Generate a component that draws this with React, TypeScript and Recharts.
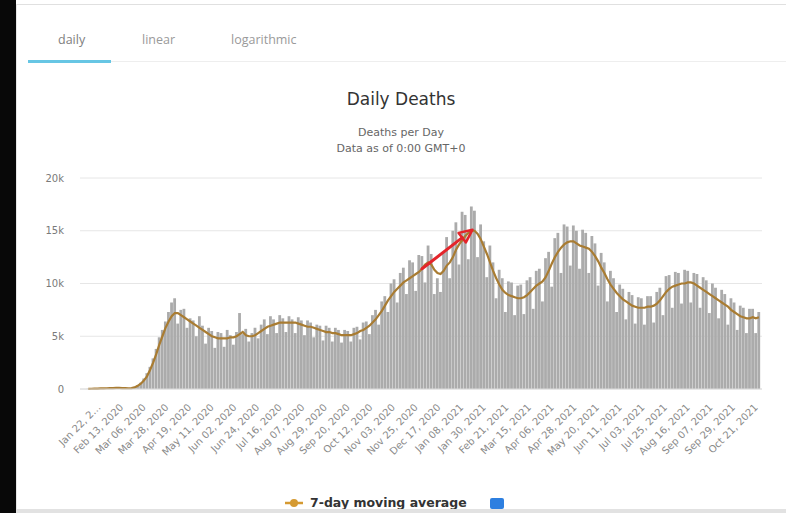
import { ComposedChart, Bar, Line, XAxis, YAxis, CartesianGrid, ReferenceLine } from "recharts";

// one sample every 3 days, starting Jan 22, 2020
const STEP = 3;

const tickDays = [0, 22, 44, 66, 88, 110, 132, 154, 176, 198, 220, 242, 264, 286, 308, 330, 352, 374, 396, 418, 440, 462, 484, 506, 528, 550, 572, 594, 616, 638];
const tickLabels = [
  "Jan 22, 2…", "Feb 13, 2020", "Mar 06, 2020", "Mar 28, 2020", "Apr 19, 2020", "May 11, 2020",
  "Jun 02, 2020", "Jun 24, 2020", "Jul 16, 2020", "Aug 07, 2020", "Aug 29, 2020", "Sep 20, 2020",
  "Oct 12, 2020", "Nov 03, 2020", "Nov 25, 2020", "Dec 17, 2020", "Jan 08, 2021", "Jan 30, 2021",
  "Feb 21, 2021", "Mar 15, 2021", "Apr 06, 2021", "Apr 28, 2021", "May 20, 2021", "Jun 11, 2021",
  "Jul 03, 2021", "Jul 25, 2021", "Aug 16, 2021", "Sep 07, 2021", "Sep 29, 2021", "Oct 21, 2021",
];
const yTicks = [0, 5000, 10000, 15000, 20000];

const dailyDeaths = [
  20, 25, 35, 40, 60, 50, 80, 100, 70, 140,
  110, 90, 70, 60, 90, 200, 350, 600, 1000, 1500,
  2100, 2900, 3800, 4900, 5600, 6400, 7300, 8200, 8600, 6200,
  7500, 7600, 5800, 6700, 6500, 5000, 6900, 6000, 4300, 5800,
  5500, 3900, 5400, 5300, 4000, 5600, 5100, 4200, 5400, 7200,
  5200, 5700, 4500, 5300, 5800, 4800, 6100, 6600, 5200, 6900,
  6600, 5300, 7000, 6700, 5400, 6900, 6600, 5300, 6800, 6500,
  5100, 6500, 6300, 4900, 6100, 6000, 4600, 6000, 5800, 4500,
  5800, 5600, 4400, 5600, 5500, 4500, 5800, 5900, 4700, 6300,
  6400, 5200, 7000, 7500, 6100, 8300, 8800, 7300, 10000, 10400,
  8200, 11000, 11500, 9000, 12200, 12000, 9300, 12700, 12600, 10100,
  13600, 12800, 9000, 10500, 9200, 13000, 14400, 10500, 15000, 15800,
  11800, 16800, 16500, 12300, 17300, 16900, 12500, 15600, 14000, 10600,
  13600, 12000, 8600, 11300, 10500, 7300, 10200, 10100, 7000, 9800,
  9900, 7100, 10300, 10600, 7600, 11200, 11400, 8300, 12400, 13000,
  9700, 14300, 14800, 11000, 15600, 15400, 11700, 15500, 15000, 11400,
  15100, 14800, 11000, 14500, 13800, 9800, 12900, 12000, 8300, 11200,
  10500, 7300, 9900, 9500, 6600, 9200, 8900, 6200, 8700, 8600,
  6100, 8800, 8800, 6300, 9200, 9600, 7000, 10700, 10800, 7700,
  11100, 11000, 8100, 11300, 11200, 8200, 11000, 10900, 7700, 10600,
  10300, 7200, 10000, 9600, 6700, 9400, 9000, 6100, 8600, 8200,
  5600, 7900, 7700, 5300, 7600, 7600, 5300, 7300,
];

const movingAvg = [
  20, 25, 30, 40, 50, 60, 70, 80, 90, 100,
  100, 90, 80, 70, 80, 150, 300, 500, 800, 1200,
  1800, 2500, 3300, 4200, 5000, 5800, 6400, 6900, 7200, 7200,
  7000, 6800, 6600, 6400, 6200, 6000, 5800, 5600, 5400, 5200,
  5000, 4900, 4800, 4800, 4800, 4800, 4900, 4900, 5000, 5200,
  5400, 5100, 5000, 5000, 5100, 5300, 5500, 5700, 5900, 6000,
  6100, 6200, 6300, 6300, 6300, 6300, 6300, 6300, 6200, 6100,
  6000, 5900, 5900, 5800, 5700, 5600, 5500, 5400, 5400, 5300,
  5300, 5200, 5100, 5100, 5100, 5100, 5200, 5300, 5500, 5600,
  5800, 6000, 6300, 6600, 7000, 7400, 7900, 8400, 8800, 9200,
  9500, 9800, 10100, 10300, 10500, 10700, 10900, 11100, 11400, 11800,
  12000, 11800, 11300, 11000, 10900, 11200, 11700, 12000, 12500, 13200,
  13700, 14100, 14500, 14800, 15000, 15000, 14700, 14200, 13500, 12800,
  12000, 11200, 10500, 9900, 9400, 9100, 8900, 8800, 8700, 8600,
  8600, 8700, 8900, 9200, 9500, 9800, 10000, 10200, 10600, 11200,
  11900, 12500, 13000, 13400, 13700, 13900, 14000, 14000, 13800, 13600,
  13500, 13400, 13300, 13000, 12600, 12100, 11500, 11000, 10400, 9900,
  9500, 9100, 8800, 8500, 8300, 8100, 7900, 7800, 7700, 7700,
  7700, 7800, 7800, 7900, 8100, 8400, 8800, 9200, 9500, 9700,
  9800, 9900, 10000, 10000, 10100, 10100, 10000, 9800, 9600, 9400,
  9200, 9000, 8800, 8600, 8400, 8200, 8000, 7800, 7500, 7300,
  7100, 6900, 6800, 6700, 6700, 6800, 6700, 6800,
];

const data = dailyDeaths.map((v, i) => ({ day: i * STEP, deaths: v, avg: movingAvg[i] }));

const XTick = (props: any) => {
  const { x, y, payload } = props;
  const label = tickLabels[tickDays.indexOf(payload.value)];
  const ax = x + 13;
  const ay = y + 17;
  return (
    <text x={ax} y={ay} transform={`rotate(-45 ${ax} ${ay})`} textAnchor="end" fontSize={10} fill="#8a8a8a" fontFamily="DejaVu Sans">
      {label}
    </text>
  );
};

const Arrow = (p: any) => {
  const { x1, y1, x2, y2 } = p;
  const a = Math.atan2(y2 - y1, x2 - x1);
  const L = 13;
  const W = 6;
  const bx = x2 - L * Math.cos(a);
  const by = y2 - L * Math.sin(a);
  const px = -Math.sin(a) * W;
  const py = Math.cos(a) * W;
  return (
    <g>
      <line x1={x1} y1={y1} x2={bx} y2={by} stroke="#e4252b" strokeWidth={3} strokeLinecap="round" />
      <polygon
        points={`${x2},${y2} ${bx + px},${by + py} ${bx - px},${by - py}`}
        fill="none"
        stroke="#e4252b"
        strokeWidth={2.5}
        strokeLinejoin="round"
      />
    </g>
  );
};

export default function App() {
  return (
    <div style={{ position: "absolute", left: 0, top: 0, width: 786, height: 513, background: "#fff", overflow: "hidden", fontFamily: "DejaVu Sans" }}>
      <div style={{ position: "absolute", left: 0, top: 0, width: 16, height: 513, background: "#080808" }} />
      <div style={{ position: "absolute", left: 16, top: 4, width: 1, height: 509, background: "#e6e6e6" }} />
      <div style={{ position: "absolute", left: 17, top: 4, right: 0, height: 1, background: "#e0e0e0" }} />

      {/* tabs */}
      <div style={{ position: "absolute", left: 28, top: 61, right: 0, height: 1, background: "#eeeeee" }} />
      <div style={{ position: "absolute", left: 28, top: 60, width: 83, height: 3, background: "#67c6e4" }} />
      <div style={{ position: "absolute", left: 58, top: 31, lineHeight: "18px", fontSize: 12.5, fontFamily: "Open Sans", color: "#808080" }}>daily</div>
      <div style={{ position: "absolute", left: 142, top: 31, lineHeight: "18px", fontSize: 12.5, fontFamily: "Open Sans", color: "#9a9a9a" }}>linear</div>
      <div style={{ position: "absolute", left: 231, top: 31, lineHeight: "18px", fontSize: 12.5, fontFamily: "Open Sans", color: "#9a9a9a" }}>logarithmic</div>

      <div style={{ position: "absolute", left: 0, top: 0 }}>
        <ComposedChart width={786} height={513} data={data} margin={{ top: 178, right: 24, bottom: 0, left: 0 }}>
          <CartesianGrid vertical={false} stroke="#e6e6e6" />
          <XAxis
            dataKey="day"
            type="number"
            domain={[-8, 654]}
            ticks={tickDays}
            interval={0}
            tick={<XTick />}
            tickLine={false}
            tickSize={0}
            height={124}
            axisLine={{ stroke: "#dcdcdc" }}
          />
          <YAxis
            domain={[0, 20000]}
            ticks={yTicks}
            width={80}
            tickLine={false}
            axisLine={false}
            tickSize={0}
            tickMargin={16}
            tickFormatter={(v: number) => (v === 0 ? "0" : `${v / 1000}k`)}
            tick={{ fontSize: 10, fill: "#7a7a7a", fontFamily: "DejaVu Sans" }}
          />
          <Bar dataKey="deaths" fill="#ababab" barSize={2.8} isAnimationActive={false} />
          <Line type="linear" dataKey="avg" stroke="#a97c32" strokeWidth={2.2} dot={false} isAnimationActive={false} />
          <ReferenceLine segment={[{ x: 324, y: 11400 }, { x: 373, y: 15100 }]} shape={Arrow} ifOverflow="visible" />
        </ComposedChart>
      </div>

      {/* title */}
      <div style={{ position: "absolute", left: 0, width: 802, top: 89, textAlign: "center", fontSize: 17, lineHeight: "20px", color: "#333" }}>Daily Deaths</div>
      <div style={{ position: "absolute", left: 0, width: 802, top: 125, textAlign: "center", fontSize: 11, lineHeight: "16px", color: "#666" }}>
        Deaths per Day
        <br />
        Data as of 0:00 GMT+0
      </div>

      {/* legend */}
      <svg style={{ position: "absolute", left: 284, top: 497 }} width={20} height={12}>
        <line x1={1} y1={6} x2={19} y2={6} stroke="#d59a32" strokeWidth={2.5} />
        <circle cx={10} cy={6} r={4} fill="#d59a32" />
      </svg>
      <div style={{ position: "absolute", left: 310, top: 495, fontSize: 12.5, fontWeight: "bold", lineHeight: "16px", color: "#333", whiteSpace: "nowrap" }}>
        7-day moving average
      </div>
      <div style={{ position: "absolute", left: 490, top: 498, width: 14, height: 11, background: "#2d7fe0", borderRadius: 2 }} />
      <div style={{ position: "absolute", left: 16, top: 509, right: 0, height: 4, background: "#e2e2e2" }} />
    </div>
  );
}
